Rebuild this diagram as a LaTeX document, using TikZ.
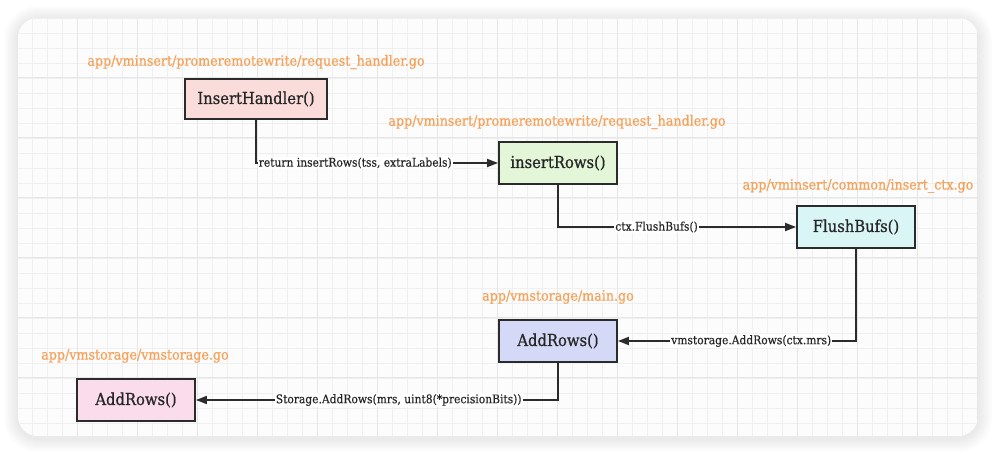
\documentclass[tikz,border=0pt]{standalone}
\usepackage{fontspec}
\setmainfont{DejaVu Serif Condensed}[BoldFont={DejaVu Serif Condensed}, BoldFeatures={FakeBold=0.7}]
\newfontfamily\semiserif{DejaVu Serif Condensed}[FakeBold=0.35]
\usetikzlibrary{arrows.meta}
\definecolor{orangetxt}{HTML}{F5A35C}
\definecolor{edgecol}{HTML}{2B2B2B}
\definecolor{gridminor}{HTML}{F0F0F0}
\definecolor{gridmajor}{HTML}{E6E6E6}
\definecolor{fillA}{HTML}{FADCDB}
\definecolor{fillB}{HTML}{E3F6D8}
\definecolor{fillC}{HTML}{DAF5F6}
\definecolor{fillD}{HTML}{D4D9F8}
\definecolor{fillE}{HTML}{FADCEC}
\tikzset{
  fnbox/.style={draw=edgecol, line width=1.8pt, minimum width=118pt, minimum height=42pt, inner sep=0pt, font=\fontsize{16.4}{19}\selectfont\bfseries, text=black!85},
  filelbl/.style={text=orangetxt, font=\fontsize{14.1}{16}\selectfont\bfseries, inner sep=0pt},
  edgelbl/.style={fill=white, inner sep=1pt, font=\fontsize{11.9}{14}\selectfont\semiserif, text=black!85},
  arr/.style={draw=edgecol, line width=1.8pt, -{Triangle[length=11pt,width=8pt]}}
}
\begin{document}
\begin{tikzpicture}[x=1pt,y=-1pt]
\useasboundingbox (0,0) rectangle (997,454);
\fill[white] (0,0) rectangle (997,454);
% shadow
\foreach \i in {14,12,...,1}{
  \fill[black, opacity=0.012, rounded corners={20pt+\i pt}] (18-\i,18-\i+2) rectangle (978+\i,436+\i+2);
}
\fill[white!98!black, rounded corners=20pt] (18,18) rectangle (978,436);
\begin{scope}
\clip[rounded corners=20pt] (18,18) rectangle (978,436);
\fill[white!99!black] (18,18) rectangle (978,436);
\foreach \k in {0,...,64}{
  \draw[gridminor, line width=0.8pt] (17+15*\k,18) -- (17+15*\k,436);
}
\foreach \k in {0,...,28}{
  \draw[gridminor, line width=0.8pt] (18,18+15*\k) -- (978,18+15*\k);
}
\foreach \k in {0,...,16}{
  \draw[gridmajor, line width=1pt] (17+60*\k,18) -- (17+60*\k,436);
}
\foreach \k in {0,...,7}{
  \draw[gridmajor, line width=1pt] (18,18+60*\k) -- (978,18+60*\k);
}
\end{scope}
% file labels
\node[filelbl] (f1) at (256,62) {app/vminsert/promeremotewrite/request\_handler.go};
\node[filelbl] (f2) at (557,122) {app/vminsert/promeremotewrite/request\_handler.go};
\node[filelbl] (f3) at (858,186) {app/vminsert/common/insert\_ctx.go};
\node[filelbl] (f4) at (558,297) {app/vmstorage/main.go};
\node[filelbl] (f5) at (135,356) {app/vmstorage/vmstorage.go};
% boxes
\node[fnbox, fill=fillA, minimum width=142pt, minimum height=40pt] (ih) at (256,99) {InsertHandler()};
\node[fnbox, fill=fillB] (ir) at (558,163) {insertRows()};
\node[fnbox, fill=fillC] (fb) at (856,227) {FlushBufs()};
\node[fnbox, fill=fillD] (am) at (558,341) {AddRows()};
\node[fnbox, fill=fillE] (as) at (136,400) {AddRows()};
% edges
\draw[arr] (ih.south) |- node[edgelbl, pos=0.705] {return insertRows(tss, extraLabels)} (ir.west);
\draw[arr] (ir.south) |- node[edgelbl, pos=0.707] {ctx.FlushBufs()} (fb.west);
\draw[arr] (fb.south) |- node[edgelbl, pos=0.72] {vmstorage.AddRows(ctx.mrs)} (am.east);
\draw[arr] (am.south) |- node[edgelbl, pos=0.72] {Storage.AddRows(mrs, uint8(*precisionBits))} (as.east);
\end{tikzpicture}
\end{document}
